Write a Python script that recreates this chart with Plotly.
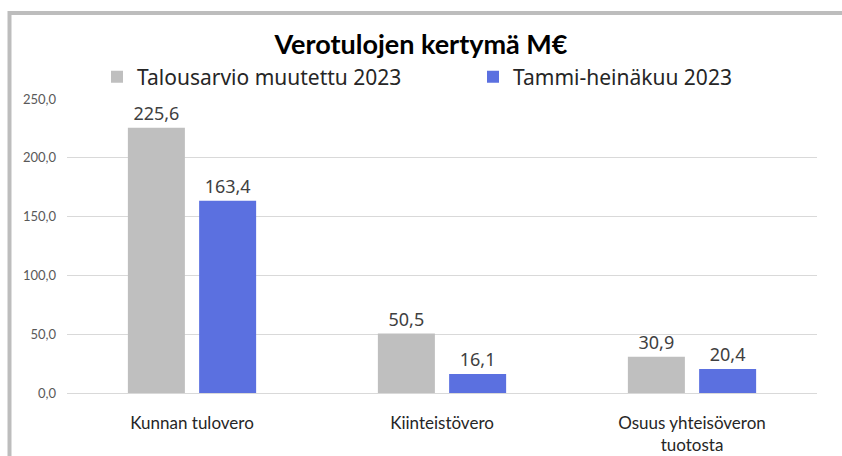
import plotly.graph_objects as go

categories = ["Kunnan tulovero", "Kiinteistövero", "Osuus yhteisöveron<br>tuotosta"]
series_names = ["Talousarvio muutettu 2023", "Tammi-heinäkuu 2023"]
budget = [225.6, 50.5, 30.9]
actual = [163.4, 16.1, 20.4]
colors = ["#BFBFBF", "#5B70E0"]
tick_vals = [0, 50, 100, 150, 200, 250]

W, H = 842, 456
L, R, T, B = 67, 25, 99, 63
pw, ph = W - L - R, H - T - B

def px_x(p):
    return (p - L) / pw

def px_y(p):
    return (H - B - p) / ph

legend_names = ["legend", "legend2"]
legend_left = [97, 473]

fig = go.Figure()
for name, vals, col, lg in zip(series_names, [budget, actual], colors, legend_names):
    fig.add_trace(go.Bar(
        name=name, x=categories, y=vals, marker=dict(color=col, line=dict(width=0)),
        texttemplate="%{y:.1f}", textposition="outside", cliponaxis=False,
        textfont=dict(family="Noto Sans", size=18, color="#404040"),
        legend=lg,
    ))

leg_common = dict(orientation="h", xanchor="left", y=px_y(77), yanchor="middle",
                  font=dict(family="Noto Sans", size=21, color="#262626"),
                  bgcolor="rgba(0,0,0,0)")

fig.update_layout(
    width=W, height=H,
    margin=dict(l=L, r=R, t=T, b=B),
    paper_bgcolor="white", plot_bgcolor="white",
    separators=", ",
    barmode="group", bargap=0.43, bargroupgap=0.2,
    title=dict(text="<b>Verotulojen kertymä M€</b>", x=0.5, xanchor="center",
               y=1 - 45 / H, yanchor="middle",
               font=dict(family="Lato", size=27, color="#000000")),
    legend=dict(x=px_x(legend_left[0]), **leg_common),
    legend2=dict(x=px_x(legend_left[1]), **leg_common),
    showlegend=True,
    xaxis=dict(showgrid=False, showline=False, ticks="", ticklabelstandoff=18,
               automargin=False,
               tickfont=dict(family="Lato", size=17, color="#262626")),
    yaxis=dict(range=[0, 250], tickvals=tick_vals, tickformat=".1f", showgrid=True,
               gridcolor="#D9D9D9", gridwidth=1, zeroline=True, zerolinecolor="#D9D9D9",
               zerolinewidth=1, showline=False, ticks="", ticklabelstandoff=10,
               automargin=False,
               tickfont=dict(family="Lato", size=13, color="#595959")),
    shapes=[dict(type="rect", xref="paper", yref="paper",
                 x0=px_x(9.5), x1=px_x(W + 20), y0=px_y(H + 20), y1=px_y(13),
                 line=dict(color="#BDBDBD", width=4), fillcolor="rgba(0,0,0,0)", layer="below")],
)

fig.write_html("out.html")
